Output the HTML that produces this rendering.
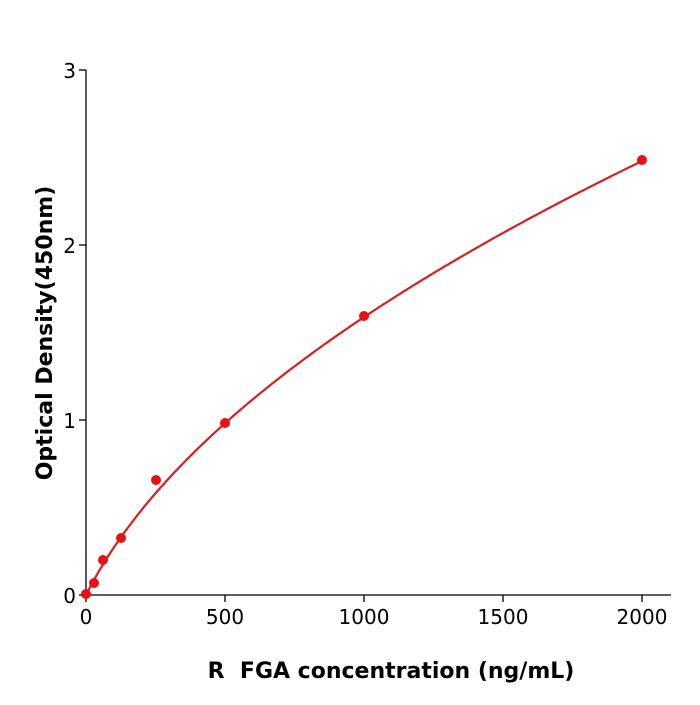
<!DOCTYPE html>
<html><head><meta charset="utf-8"><style>
body{margin:0;background:#fff;}
svg text{font-family:"DejaVu Sans","Liberation Sans",sans-serif;}
</style></head><body>
<svg width="700" height="700" xmlns="http://www.w3.org/2000/svg">
<rect width="700" height="700" fill="#fff"/>
<g stroke="#000" stroke-width="1.3" fill="none">
<line x1="86" y1="70" x2="86" y2="595"/>
<line x1="86" y1="595" x2="671" y2="595"/>
<line x1="79" y1="70" x2="86" y2="70"/>
<line x1="79" y1="245" x2="86" y2="245"/>
<line x1="79" y1="420" x2="86" y2="420"/>
<line x1="79" y1="595" x2="86" y2="595"/>
<line x1="86" y1="595" x2="86" y2="602"/>
<line x1="225" y1="595" x2="225" y2="602"/>
<line x1="364" y1="595" x2="364" y2="602"/>
<line x1="503" y1="595" x2="503" y2="602"/>
<line x1="642" y1="595" x2="642" y2="602"/>
</g>
<g font-size="20" fill="#000" text-anchor="end">
<text x="76" y="78">3</text>
<text x="76" y="253">2</text>
<text x="76" y="428">1</text>
<text x="76" y="603">0</text>
</g>
<g font-size="20" fill="#000" text-anchor="middle">
<text x="86" y="624">0</text>
<text x="225" y="624">500</text>
<text x="364" y="624">1000</text>
<text x="503" y="624">1500</text>
<text x="642" y="624">2000</text>
</g>
<text x="391" y="678" font-size="22" font-weight="bold" text-anchor="middle" xml:space="preserve">R  FGA concentration (ng/mL)</text>
<text transform="translate(52,333) rotate(-90)" font-size="22" font-weight="bold" text-anchor="middle">Optical Density(450nm)</text>
<path id="crv" d="" fill="none" stroke="#d62020" stroke-width="2.2"/>
<g fill="#e81010">
<circle cx="86" cy="594" r="5"/>
<circle cx="94" cy="583" r="5"/>
<circle cx="103" cy="560" r="5"/>
<circle cx="121" cy="538" r="5"/>
<circle cx="156" cy="480" r="5"/>
<circle cx="225" cy="423" r="5"/>
<circle cx="364" cy="316" r="5"/>
<circle cx="642" cy="160" r="5"/>
</g>
</svg>
<script>
var s="";
for(var i=0;i<=200;i++){
 var x=i*10, y=0.794*(Math.sqrt(1+0.008*x)-1);
 s+=(i?" L":"M")+(86+0.278*x).toFixed(2)+","+(595-175*y).toFixed(2);
}
document.getElementById("crv").setAttribute("d",s);
</script>
</body></html>
